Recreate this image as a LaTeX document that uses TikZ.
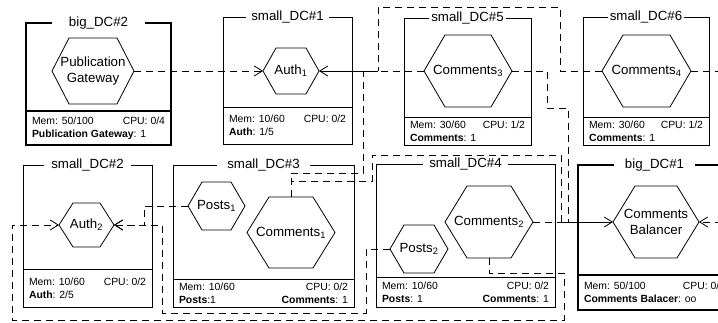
\documentclass[tikz,border=0pt]{standalone}
\usepackage{fontspec}
\setmainfont{Liberation Sans}
\usepackage{tikz}
\usetikzlibrary{arrows.meta, positioning}

\newcommand{\infofont}{\fontsize{10.4}{13}\selectfont}
\newcommand{\hexfont}{\fontsize{13.3}{16}\selectfont}
\newcommand{\dcinfo}[5]{\parbox{#1}{\hbox to #1{#2\hfill #3}\hbox to #1{#4\hfill #5}}}

\begin{document}
\begin{tikzpicture}[x=1pt, y=-1pt,
    dcbox/.style={rectangle, draw, line width=0.9pt, inner sep=0pt, outer sep=0pt},
    bigbox/.style={dcbox, line width=2.6pt},
    infobox/.style={font=\infofont},
    dctitle/.style={fill=white, inner xsep=#1, inner ysep=0.5pt, font=\hexfont},
    dctitle/.default=6pt,
    hexnode/.style={inner sep=0pt, outer sep=0pt, align=center, font=\hexfont},
    dlink/.style={line width=0.8pt, dash pattern=on 7pt off 5pt},
    slink/.style={line width=0.8pt},
    toarrow/.style={-{Straight Barb[length=8pt, width=10pt]}}
]

% visible area
\useasboundingbox (0,0) rectangle (718,323);
\clip (0,0) rectangle (718,323);

% Data centres, top row
\node[bigbox, minimum width=145pt, minimum height=88pt] (big2) at (98.5,67) {};
\node[bigbox, infobox, minimum width=145pt, minimum height=34pt, below=0pt of big2] (big2info) {\dcinfo{133pt}{Mem: 50/100}{CPU: 0/4}{\textbf{Publication Gateway}: 1}{}};
\node[dctitle=17pt] (big2title) at (big2.north) {big\_DC\#2};

\node[dcbox, minimum width=129pt, minimum height=90pt] (s1) at (287.5,62) {};
\node[dcbox, infobox, minimum width=129pt, minimum height=37pt, below=0pt of s1] (s1info) {\dcinfo{117pt}{Mem: 10/60}{CPU: 0/2}{\textbf{Auth}: 1/5}{}};
\node[dctitle=5pt] (s1title) at (s1.north) {small\_DC\#1};

\node[dcbox, minimum width=127pt, minimum height=99pt] (s5) at (467.5,67.5) {};
\node[dcbox, infobox, minimum width=127pt, minimum height=28pt, below=0pt of s5] (s5info) {\dcinfo{115pt}{Mem: 30/60}{CPU: 1/2}{\textbf{Comments}: 1}{}};
\node[dctitle=2pt] (s5title) at (s5.north) {small\_DC\#5};

\node[dcbox, minimum width=126pt, minimum height=100pt] (s6) at (646,67) {};
\node[dcbox, infobox, minimum width=126pt, minimum height=28pt, below=0pt of s6] (s6info) {\dcinfo{114pt}{Mem: 30/60}{CPU: 1/2}{\textbf{Comments}: 1}{}};
\node[dctitle=2pt] (s6title) at (s6.north) {small\_DC\#6};

% Data centres, bottom row
\node[dcbox, minimum width=129pt, minimum height=104pt] (s2) at (87.5,217) {};
\node[dcbox, infobox, minimum width=129pt, minimum height=38pt, below=0pt of s2] (s2info) {\dcinfo{117pt}{Mem: 10/60}{CPU: 0/2}{\textbf{Auth}: 2/5}{}};
\node[dctitle=7pt] (s2title) at (s2.north) {small\_DC\#2};

\node[dcbox, minimum width=181pt, minimum height=114pt] (s3) at (263.5,222) {};
\node[dcbox, infobox, minimum width=181pt, minimum height=28pt, below=0pt of s3] (s3info) {\dcinfo{169pt}{Mem: 10/60}{CPU: 0/2}{\textbf{Posts}:1}{\textbf{Comments}: 1}};
\node[dctitle=10pt] (s3title) at (s3.north) {small\_DC\#3};

\node[dcbox, minimum width=179pt, minimum height=113pt] (s4) at (465.5,220.5) {};
\node[dcbox, infobox, minimum width=179pt, minimum height=30pt, below=0pt of s4] (s4info) {\dcinfo{167pt}{Mem: 10/60}{CPU: 0/2}{\textbf{Posts}: 1}{\textbf{Comments}: 1}};
\node[dctitle=6pt] (s4title) at (s4.north) {small\_DC\#4};

\node[bigbox, minimum width=153pt, minimum height=110pt] (big1) at (654.5,220) {};
\node[bigbox, infobox, minimum width=153pt, minimum height=35pt, below=0pt of big1] (big1info) {\dcinfo{141pt}{Mem: 50/100}{CPU: 0/4}{\textbf{Comments Balacer}: oo}{}};
\node[dctitle=11pt] (big1title) at (big1.north) {big\_DC\#1};

% Services
\node[hexnode, minimum width=82pt, minimum height=66pt] (pg) at (93,71) {Publication\\Gateway};
\node[hexnode, minimum width=56pt, minimum height=46pt] (a1) at (291,71) {Auth\textsubscript{1}};
\node[hexnode, minimum width=88pt, minimum height=72pt] (cm3) at (468,71) {Comments\textsubscript{3}};
\node[hexnode, minimum width=89pt, minimum height=72pt] (cm4) at (646.5,71) {Comments\textsubscript{4}};
\node[hexnode, minimum width=55pt, minimum height=44pt] (a2) at (86.5,225) {Auth\textsubscript{2}};
\node[hexnode, minimum width=57pt, minimum height=48pt] (p1) at (216.5,206) {Posts\textsubscript{1}};
\node[hexnode, minimum width=88pt, minimum height=71pt] (cm1) at (291,232.5) {Comments\textsubscript{1}};
\node[hexnode, minimum width=58pt, minimum height=48pt] (p2) at (419,249) {Posts\textsubscript{2}};
\node[hexnode, minimum width=88pt, minimum height=72pt] (cm2) at (489,222) {Comments\textsubscript{2}};
\node[hexnode, minimum width=86pt, minimum height=72pt] (bal) at (656,222) {Comments\\Balancer};

\foreach \h/\d in {pg/17, a1/13, cm3/21, cm4/21, a2/14, p1/14, cm1/22, p2/14, cm2/22, bal/22}
  \draw[line width=0.8pt] (\h.west) -- ([xshift=\d pt]\h.north west) -- ([xshift=-\d pt]\h.north east)
    -- (\h.east) -- ([xshift=-\d pt]\h.south east) -- ([xshift=\d pt]\h.south west) -- cycle;

% Junctions
\coordinate (jA) at (378,71);
\coordinate (jB) at (363,71);
\coordinate (jC) at (561,222);
\coordinate (jD) at (568,222);

% Calls to Auth_1
\draw[dlink, toarrow] (pg.east) -- (a1.west);
\draw[dlink] (cm3.west) -- (jA);
\draw[dlink] (cm4.west) -| (560,7) -| (jA);
\draw[dlink] (cm1.north) |- (363,173) -- (jB);
\draw[slink, toarrow] (jA) -- (a1.east);

% Calls to the balancer
\draw[dlink] (cm1.north) |- (372,181) |- (561,155) -- (jC);
\draw[dlink] (cm3.east) -| (547,108) -| (jD);
\draw[dlink] (cm2.east) -- (jC);
\draw[dlink, toarrow] (cm4.east) -| (745,222) -- (bal.east);
\draw[slink, toarrow] (jC) -- (bal.west);

% Calls to Auth_2
\draw[dlink, toarrow] (cm2.south) |- (564,273) |- (12,320) |- (a2.west);
\draw[dlink, toarrow] (p1.west) -| (144,225) -- (a2.east);
\draw[dlink, toarrow] (p2.west) -| (366,313) -| (162,225) -- (a2.east);

\end{tikzpicture}
\end{document}
